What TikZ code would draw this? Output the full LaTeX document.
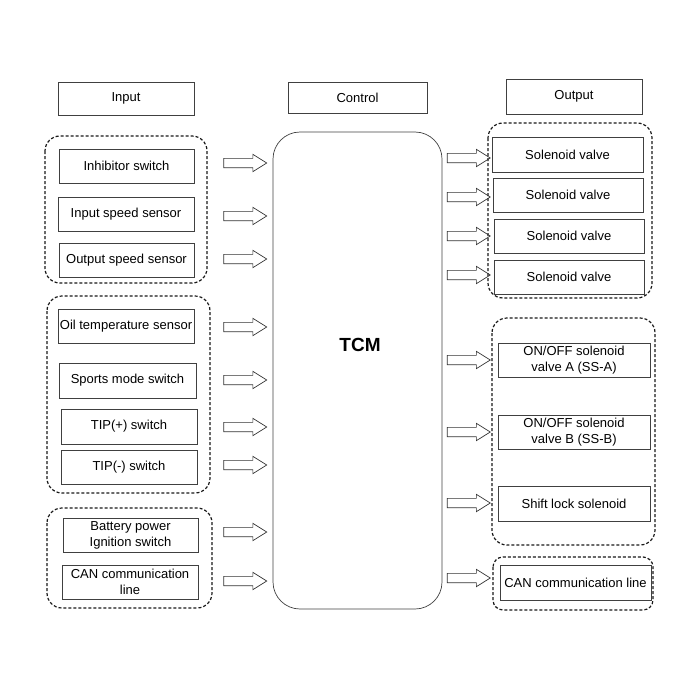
\documentclass[tikz,border=0pt]{standalone}
\usepackage{fontspec}
\setmainfont{Liberation Sans}
\usetikzlibrary{shapes.arrows}

\begin{document}
\begin{tikzpicture}[
    x=1pt, y=-1pt,
    font=\fontsize{13}{16}\selectfont,
    infobox/.style={
        draw=black!75,
        line width=0.7pt,
        align=center,
        inner sep=1pt,
        minimum width=136pt,
        minimum height=34pt
    },
    outbox/.style={infobox, minimum width=151pt},
    headbox/.style={infobox, minimum height=33pt},
    groupbox/.style={
        draw=black!90,
        dash pattern=on 3pt off 2pt,
        line width=1.2pt,
        rounded corners=15pt
    },
    flowarrow/.style={
        shape=single arrow,
        draw=black!80,
        line width=0.7pt,
        inner sep=4.3pt,
        minimum height=43pt,
        minimum width=16pt,
        single arrow head extend=4pt,
        single arrow tip angle=64
    }
]
\useasboundingbox (0,0) rectangle (700,677);

% column headers
\node[headbox] (input) at (126,98.5) {Input};
\node[headbox, minimum width=139pt, minimum height=31pt] (control) at (357.5,97.5) {Control};
\node[headbox, minimum height=35pt] (output) at (574,96.5) {Output};

% control unit
\draw[draw=black!75, line width=0.7pt, rounded corners=27pt]
    (273,132) rectangle (442,609);
\node[font=\bfseries\fontsize{19}{22}\selectfont] (tcm) at (360,345) {TCM};

% inputs
\node[infobox, minimum width=135pt] (inhibitor) at (126.5,166) {Inhibitor switch};
\node[infobox] (inspeed) at (126,214) {Input speed sensor};
\node[infobox, minimum width=135pt] (outspeed) at (126.5,260) {Output speed sensor};
\node[infobox] (oiltemp) at (126,326) {Oil temperature sensor};
\node[infobox, minimum width=137pt, minimum height=35pt] (sports) at (127.5,380.5) {Sports mode switch};
\node[infobox, minimum height=35pt] (tipplus) at (129,426.5) {TIP(+) switch};
\node[infobox] (tipminus) at (129,467) {TIP(-) switch};
\node[infobox, minimum width=135pt] (battery) at (130.5,535) {Battery power\\Ignition switch};
\node[infobox] (canin) at (130,582) {CAN communication\\line};

\draw[groupbox] (45,136) rectangle (207,283);
\draw[groupbox] (47,296) rectangle (210,493);
\draw[groupbox] (47,508) rectangle (212,608);

% outputs
\node[outbox, minimum height=35pt] (valve1) at (567.5,154.5) {Solenoid valve};
\node[outbox, minimum width=150pt] (valve2) at (568,195) {Solenoid valve};
\node[outbox, minimum width=150pt] (valve3) at (569,236) {Solenoid valve};
\node[outbox, minimum width=150pt] (valve4) at (569,277) {Solenoid valve};
\node[outbox, minimum width=152pt] (ssa) at (574,360) {ON/OFF solenoid\\valve A (SS-A)};
\node[outbox, minimum width=152pt] (ssb) at (574,432) {ON/OFF solenoid\\valve B (SS-B)};
\node[outbox, minimum width=152pt, minimum height=35pt] (shiftlock) at (574,503.5) {Shift lock solenoid};
\node[outbox, minimum height=35pt] (canout) at (575.5,582.5) {CAN communication line};

\draw[groupbox] (488,123) rectangle (652,298);
\draw[groupbox] (492,318) rectangle (655,545);
\draw[groupbox, rounded corners=10pt] (493,557) rectangle (653,610);

% signal arrows into the TCM
\foreach \y/\name in {163/a1, 216/a2, 259/a3, 327/a4, 380/a5, 427/a6, 465/a7, 532/a8, 581/a9}
    \node[flowarrow] (in\name) at (241.5,\y) {};

% signal arrows out of the TCM
\foreach \y/\name in {158/b1, 197/b2, 236/b3, 275/b4, 360/b5, 432/b6, 503/b7, 578/b8}
    \node[flowarrow] (out\name) at (465,\y) {};
\end{tikzpicture}
\end{document}
